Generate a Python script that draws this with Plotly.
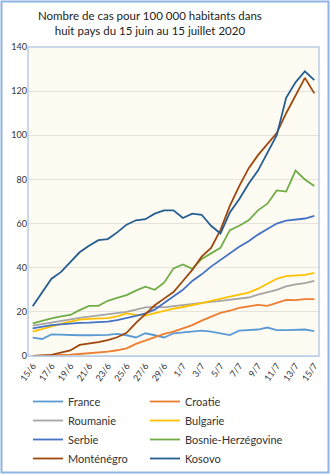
import plotly.graph_objects as go

dates = ["15/6","16/6","17/6","18/6","19/6","20/6","21/6","22/6","23/6","24/6","25/6",
         "26/6","27/6","28/6","29/6","30/6","1/7","2/7","3/7","4/7","5/7","6/7","7/7",
         "8/7","9/7","10/7","11/7","12/7","13/7","14/7","15/7"]
tick_labels = dates[::2]

france = [8.3, 7.7, 9.8, 9.6, 9.4, 9.4, 9.4, 9.4, 9.6, 10, 9.4, 8.4, 10.3, 9.4, 8.4, 10.3,
          10.8, 11.2, 11.5, 11, 10.2, 9.5, 11.5, 11.6, 12, 12.9, 11.7, 11.7, 11.7, 12, 11.3]
croatie = [0, 0.1, 0.2, 0.4, 0.6, 0.9, 1.2, 1.6, 2, 2.6, 3.5, 5.5, 7, 8.4, 10, 11,
           12.5, 14, 16, 17.8, 19.5, 20.5, 21.8, 22.5, 23.2, 22.7, 24, 25.4, 25.3, 25.8, 25.8]
roumanie = [13.8, 14.5, 15.4, 16, 16.8, 17.3, 17.8, 18.4, 19, 19.5, 20, 21, 22, 22.3, 22, 22.6,
            23, 23.5, 24, 24.5, 25, 25.4, 25.8, 26.5, 27.8, 28.8, 30, 31.5, 32.5, 33, 34]
bulgarie = [11, 12.3, 13.6, 14.6, 15.6, 16.5, 16.8, 17, 17.2, 18, 19.3, 18.6, 18.3, 19.4, 20.5, 21.5,
            22.2, 23, 24, 25, 25.8, 26.9, 27.8, 28.7, 30.5, 32.9, 35, 36.2, 36.5, 36.8, 37.7]
serbie = [12.5, 13.2, 14, 14.3, 14.8, 15, 15.1, 15.3, 15.6, 16.3, 17.1, 18.2, 19.3, 21, 24, 27,
          30, 34, 37, 40.5, 43.5, 46.5, 49.5, 52, 55, 57.5, 60, 61.3, 61.7, 62.3, 63.5]
bosnie = [14.8, 16, 17, 18, 18.6, 20.8, 22.7, 22.7, 25, 26.3, 27.6, 29.6, 31.4, 30, 33.2, 39.7,
          41.5, 39.5, 44, 46.5, 49, 57, 59, 61.5, 66, 69, 75, 74.5, 84, 80, 77]
montenegro = [0, 0.2, 0.5, 1.5, 2.5, 5, 5.5, 6.3, 7.2, 8.5, 10.5, 15, 19, 23, 26, 29,
              34, 39, 45, 49, 57, 68, 77, 85, 91, 96, 101, 110, 118, 126, 119]
kosovo = [22.5, 28.5, 35, 38, 42.5, 47, 50, 52.5, 53, 56, 59.5, 61.5, 62, 64.5, 66, 66,
          62.5, 64.5, 64, 59, 55.5, 65, 71, 78, 84, 92, 100, 117, 124, 129, 125]

series = [
    ("France", france, "#5B9BD5"),
    ("Croatie", croatie, "#ED7D31"),
    ("Roumanie", roumanie, "#A5A5A5"),
    ("Bulgarie", bulgarie, "#FFC000"),
    ("Serbie", serbie, "#4472C4"),
    ("Bosnie-Herzégovine", bosnie, "#70AD47"),
    ("Monténégro", montenegro, "#9E480E"),
    ("Kosovo", kosovo, "#255E91"),
]

FONT = "Lato"
fig = go.Figure()
for i, (name, vals, col) in enumerate(series):
    fig.add_trace(go.Scatter(x=dates, y=vals, mode="lines", name=name,
                             line=dict(color=col, width=1.8),
                             legend=("legend" if i % 2 == 0 else "legend2")))

W, H = 330, 474
L, R, T, B = 28, 11, 47, 118
pw, ph = W - L - R, H - T - B


def px_x(x):
    return (x - L) / pw


def px_y(y):
    return (T + ph - y) / ph


leg_common = dict(orientation="v", xanchor="left", y=px_y(387), yanchor="top",
                  font=dict(family=FONT, size=11, color="#333333"),
                  bgcolor="rgba(0,0,0,0)", tracegroupgap=0)

fig.update_layout(
    width=W, height=H,
    margin=dict(l=L, r=R, t=T, b=B, autoexpand=False),
    paper_bgcolor="white",
    plot_bgcolor="#FEFBF3",
    font=dict(family=FONT, color="#333333"),
    showlegend=True,
    legend=dict(x=px_x(28), **leg_common),
    legend2=dict(x=px_x(145), **leg_common),
    xaxis=dict(type="category", tickmode="array", tickvals=tick_labels, ticktext=tick_labels,
               tickangle=-55, tickfont=dict(family=FONT, size=9, color="#333333"),
               showgrid=False, showline=True, linecolor="#B9CDE5", linewidth=1,
               ticks="", range=[-0.5, 30.5], automargin=False),
    yaxis=dict(range=[0, 140], dtick=20, tickfont=dict(family=FONT, size=9, color="#333333"),
               showgrid=True, gridcolor="#E8E3DA", gridwidth=1, zeroline=False,
               showline=False, ticks="", automargin=False),
    annotations=[
        dict(text="Nombre de cas pour 100 000 habitants dans<br>huit pays du 15 juin au 15 juillet 2020",
             xref="paper", yref="paper", x=px_x(150), y=px_y(23), xanchor="center",
             yanchor="middle", showarrow=False, align="center",
             font=dict(family=FONT, size=11.5, color="#222222")),
    ],
    shapes=[
        dict(type="rect", xref="paper", yref="paper", x0=0, x1=1, y0=0, y1=1,
             line=dict(color="#B9CDE5", width=1.5), fillcolor="rgba(0,0,0,0)", layer="above"),
        dict(type="rect", xref="paper", yref="paper",
             x0=px_x(1.5), x1=px_x(W - 1.5), y0=px_y(H - 1.5), y1=px_y(1.5),
             line=dict(color="#8EB4E3", width=2), fillcolor="rgba(0,0,0,0)"),
    ],
)

fig.write_html("out.html")
